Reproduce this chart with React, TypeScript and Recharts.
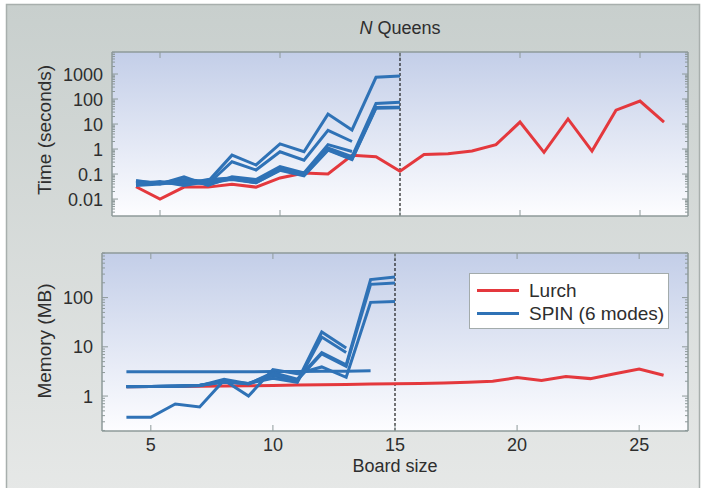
import React from 'react';
import { LineChart, Line, XAxis, YAxis, CartesianGrid, ReferenceLine, Legend } from 'recharts';

// board sizes on the x axis
const BOARD_SIZES = [4, 5, 6, 7, 8, 9, 10, 11, 12, 13, 14, 15, 16, 17, 18, 19, 20, 21, 22, 23, 24, 25, 26];
const X_TICKS = [5, 10, 15, 20, 25];
const TIME_TICKS = [0.01, 0.1, 1, 10, 100, 1000];
const MEMORY_TICKS = [1, 10, 100];

// Lurch, seconds (board 4..26)
const LURCH_TIME = [0.031, 0.01, 0.03, 0.03, 0.039, 0.03, 0.07, 0.11, 0.1, 0.56, 0.49, 0.13, 0.61, 0.65, 0.83, 1.5, 12, 0.74, 16, 0.83, 36, 83, 12];

// SPIN, six modes, seconds (board 4..)
const SPIN_TIME_1 = [0.05, 0.045, 0.06, 0.05, 0.57, 0.23, 1.6, 0.78, 25, 5.8, 740, 830];
const SPIN_TIME_2 = [0.04, 0.045, 0.05, 0.04, 0.31, 0.145, 0.78, 0.36, 5.6, 2.0];
const SPIN_TIME_3 = [0.055, 0.04, 0.078, 0.035, 0.078, 0.06, 0.2, 0.11, 1.5, 0.8];
const SPIN_TIME_4 = [0.045, 0.045, 0.04, 0.06, 0.07, 0.05, 0.17, 0.1, 1.1, 0.5, 67, 74];
const SPIN_TIME_5 = [0.035, 0.04, 0.05, 0.04, 0.065, 0.045, 0.15, 0.09, 0.95, 0.4, 46, 47];
const SPIN_TIME_6 = [0.04, 0.05, 0.035, 0.05, 0.06, 0.045, 0.14, 0.085, 0.9, 0.38, 43, 45];

// Lurch, MB (board 4..26)
const LURCH_MEMORY = [1.55, 1.56, 1.57, 1.58, 1.6, 1.62, 1.64, 1.67, 1.7, 1.72, 1.75, 1.77, 1.79, 1.84, 1.9, 1.99, 2.37, 2.08, 2.5, 2.26, 2.85, 3.54, 2.64];

// SPIN, six modes, MB (board 4..)
const SPIN_MEMORY_1 = [3.1, 3.1, 3.1, 3.1, 3.1, 3.1, 3.15, 3.15, 3.2, 3.2, 3.25];
const SPIN_MEMORY_2 = [0.37, 0.37, 0.69, 0.6, 2.1, 1.0, 3.45, 2.85, 3.9, 2.4, 80, 83];
const SPIN_MEMORY_3 = [1.55, 1.56, 1.58, 1.62, 2.2, 1.78, 2.6, 2.0, 20, 9.5];
const SPIN_MEMORY_4 = [1.57, 1.57, 1.6, 1.65, 1.9, 1.8, 2.3, 1.9, 15.8, 7.7];
const SPIN_MEMORY_5 = [1.56, 1.57, 1.6, 1.66, 2.0, 1.75, 3.0, 2.2, 7.6, 4.3, 232, 262];
const SPIN_MEMORY_6 = [1.55, 1.56, 1.59, 1.64, 1.95, 1.8, 2.8, 2.1, 7.2, 4.0, 186, 199];

const LEGEND_NAMES = ['Lurch', 'SPIN (6 modes)'];

const RED = '#e4383d';
const BLUE = '#2f72b6';
const FRAME = '#8e9a9a';
const TEXT = '#2e2e2e';
const FONT = '"Liberation Sans", Arial, sans-serif';

const SPIN_KEYS = ['spin0', 'spin1', 'spin2', 'spin3', 'spin4', 'spin5'];

const buildRows = (lurch: number[], spin: number[][]) =>
  BOARD_SIZES.map((n, i) => {
    const row: any = { n, lurch: lurch[i] };
    spin.forEach((s, k) => {
      if (i < s.length) row[SPIN_KEYS[k]] = s[i];
    });
    return row;
  });

const timeRows = buildRows(LURCH_TIME, [SPIN_TIME_1, SPIN_TIME_2, SPIN_TIME_3, SPIN_TIME_4, SPIN_TIME_5, SPIN_TIME_6]);
const memoryRows = buildRows(LURCH_MEMORY, [SPIN_MEMORY_1, SPIN_MEMORY_2, SPIN_MEMORY_3, SPIN_MEMORY_4, SPIN_MEMORY_5, SPIN_MEMORY_6]);

// log axis: labelled decades plus 2..9 minor ticks
const logTicks = (lo: number, hi: number) => {
  const out: number[] = [];
  for (let e = Math.floor(Math.log10(lo)); e <= Math.ceil(Math.log10(hi)); e++) {
    for (let m = 1; m < 10; m++) {
      const v = m * Math.pow(10, e);
      if (v >= lo && v <= hi) out.push(v);
    }
  }
  return out;
};
const isMajor = (v: number, majors: number[]) => majors.some((t) => Math.abs(t - v) / t < 1e-9);

const TIME_DOMAIN: [number, number] = [0.0021, 7600];
const MEMORY_DOMAIN: [number, number] = [0.195, 805];
const LABEL_GAP = 9;

const leftTick = (majors: number[]) => (props: any) => {
  const { x, y, payload } = props;
  const major = isMajor(payload.value, majors);
  const edge = x + LABEL_GAP;
  return (
    <g>
      <line x1={edge} x2={edge + (major ? 6 : 3)} y1={y} y2={y} stroke={FRAME} strokeWidth={1} />
      {major && (
        <text x={x} y={y} dy="0.36em" textAnchor="end" fontSize={18} fill={TEXT}>
          {String(payload.value)}
        </text>
      )}
    </g>
  );
};

const rightTick = (majors: number[]) => (props: any) => {
  const { x, y, payload } = props;
  const major = isMajor(payload.value, majors);
  return <line x1={x} x2={x - (major ? 6 : 3)} y1={y} y2={y} stroke={FRAME} strokeWidth={1} />;
};

const bottomTick = (withLabel: boolean) => (props: any) => {
  const { x, y, payload } = props;
  const edge = withLabel ? y - 7 : y;
  return (
    <g>
      <line x1={x} x2={x} y1={edge} y2={edge - 6} stroke={FRAME} strokeWidth={1} />
      {withLabel && (
        <text x={x} y={y} dy="0.71em" textAnchor="middle" fontSize={18} fill={TEXT}>
          {payload.value}
        </text>
      )}
    </g>
  );
};

const topTick = (props: any) => {
  const { x, y } = props;
  return <line x1={x} x2={x} y1={y} y2={y + 6} stroke={FRAME} strokeWidth={1} />;
};

const LegendBox = () => (
  <div
    style={{
      background: '#fff',
      border: '1px solid #a3abab',
      padding: '5px 0 2px 7px',
      width: 200,
      boxSizing: 'border-box',
      fontFamily: FONT,
    }}
  >
    {LEGEND_NAMES.map((name, i) => (
      <div key={name} style={{ display: 'flex', alignItems: 'center', height: 23.3 }}>
        <span style={{ display: 'inline-block', width: 42, height: 3, background: i === 0 ? RED : BLUE, marginRight: 10 }} />
        <span style={{ fontSize: 19, color: TEXT, lineHeight: '20px' }}>{name}</span>
      </div>
    ))}
  </div>
);

const axisLine = { stroke: FRAME, strokeWidth: 1.5 };

const renderSeries = () => [
  <Line key="lurch" dataKey="lurch" type="linear" stroke={RED} strokeWidth={3} dot={false} isAnimationActive={false} legendType="none" />,
  ...SPIN_KEYS.map((k) => (
    <Line key={k} dataKey={k} type="linear" stroke={BLUE} strokeWidth={3} dot={false} isAnimationActive={false} legendType="none" />
  )),
  // invisible series so the mirrored top/right axes are active
  <Line key="ghost" xAxisId="top" yAxisId="right" dataKey="lurch" stroke="transparent" strokeWidth={0} dot={false} activeDot={false} isAnimationActive={false} legendType="none" />,
];

const App = () => {
  const timeTicks = logTicks(TIME_DOMAIN[0], TIME_DOMAIN[1]);
  const memoryTicks = logTicks(MEMORY_DOMAIN[0], MEMORY_DOMAIN[1]);

  return (
    <div style={{ position: 'absolute', left: 0, top: 0, width: 704, height: 488, fontFamily: FONT, background: '#fff' }}>
      <svg width={704} height={488} style={{ position: 'absolute', left: 0, top: 0 }}>
        <defs>
          <linearGradient id="panelFill" x1="0" y1="0" x2="0" y2="1">
            <stop offset="0%" stopColor="#c8cfcd" />
            <stop offset="100%" stopColor="#e6e8e7" />
          </linearGradient>
          <linearGradient id="plotFill" x1="0" y1="0" x2="0" y2="1">
            <stop offset="0%" stopColor="#c3cee8" />
            <stop offset="100%" stopColor="#fdfdff" />
          </linearGradient>
        </defs>
        <rect x={6.5} y={4.5} width={693} height={490} fill="url(#panelFill)" stroke="#a8afad" strokeWidth={1.5} />
        <text x={400} y={34} textAnchor="middle" fontSize={18} fill={TEXT}>
          <tspan fontStyle="italic">N</tspan>
          {' Queens'}
        </text>
        <text x={44} y={130} transform="rotate(-90 44 130)" textAnchor="middle" dominantBaseline="central" fontSize={19} fill={TEXT}>
          Time (seconds)
        </text>
        <text x={44} y={341} transform="rotate(-90 44 341)" textAnchor="middle" dominantBaseline="central" fontSize={19} fill={TEXT}>
          Memory (MB)
        </text>
      </svg>

      <div style={{ position: 'absolute', left: 0, top: 0 }}>
        <LineChart width={704} height={240} data={timeRows} margin={{ top: 51, right: 15, bottom: 23, left: 0 }}>
          <CartesianGrid horizontal={false} vertical={false} fill="url(#plotFill)" />
          <XAxis dataKey="n" type="number" domain={[3, 27]} ticks={X_TICKS} interval={0} height={1} tickSize={0} tickMargin={0} tickLine={false} axisLine={axisLine} tick={bottomTick(false)} />
          <XAxis xAxisId="top" orientation="top" dataKey="n" type="number" domain={[3, 27]} ticks={X_TICKS} interval={0} height={1} tickSize={0} tickMargin={0} tickLine={false} axisLine={axisLine} tick={topTick} />
          <YAxis scale="log" type="number" domain={TIME_DOMAIN} allowDataOverflow ticks={timeTicks} interval={0} width={112} tickSize={0} tickMargin={LABEL_GAP} tickLine={false} axisLine={axisLine} tick={leftTick(TIME_TICKS)} />
          <YAxis yAxisId="right" orientation="right" scale="log" type="number" domain={TIME_DOMAIN} allowDataOverflow ticks={timeTicks} interval={0} width={1} tickSize={0} tickMargin={0} tickLine={false} axisLine={axisLine} tick={rightTick(TIME_TICKS)} />
          <ReferenceLine x={15} stroke="#1c1c1c" strokeDasharray="3 2" strokeWidth={1.2} />
          {renderSeries()}
        </LineChart>
      </div>

      <div style={{ position: 'absolute', left: 0, top: 240 }}>
        <LineChart width={704} height={248} data={memoryRows} margin={{ top: 12, right: 15, bottom: 0, left: 0 }}>
          <CartesianGrid horizontal={false} vertical={false} fill="url(#plotFill)" />
          <XAxis
            dataKey="n"
            type="number"
            domain={[3, 27]}
            ticks={X_TICKS}
            interval={0}
            height={57}
            tickSize={0}
            tickMargin={7}
            tickLine={false}
            axisLine={axisLine}
            tick={bottomTick(true)}
            label={{ value: 'Board size', position: 'insideBottom', offset: 16, fontSize: 18, fill: TEXT }}
          />
          <XAxis xAxisId="top" orientation="top" dataKey="n" type="number" domain={[3, 27]} ticks={X_TICKS} interval={0} height={1} tickSize={0} tickMargin={0} tickLine={false} axisLine={axisLine} tick={topTick} />
          <YAxis scale="log" type="number" domain={MEMORY_DOMAIN} allowDataOverflow ticks={memoryTicks} interval={0} width={102} tickSize={0} tickMargin={LABEL_GAP} tickLine={false} axisLine={axisLine} tick={leftTick(MEMORY_TICKS)} />
          <YAxis yAxisId="right" orientation="right" scale="log" type="number" domain={MEMORY_DOMAIN} allowDataOverflow ticks={memoryTicks} interval={0} width={1} tickSize={0} tickMargin={0} tickLine={false} axisLine={axisLine} tick={rightTick(MEMORY_TICKS)} />
          <ReferenceLine x={15} stroke="#1c1c1c" strokeDasharray="3 2" strokeWidth={1.2} />
          {renderSeries()}
          <Legend
            layout="vertical"
            align="center"
            verticalAlign="middle"
            content={<LegendBox />}
            wrapperStyle={{ position: 'absolute', left: 469, top: 33, width: 200, height: 54 }}
          />
        </LineChart>
      </div>
    </div>
  );
};

export default App;
